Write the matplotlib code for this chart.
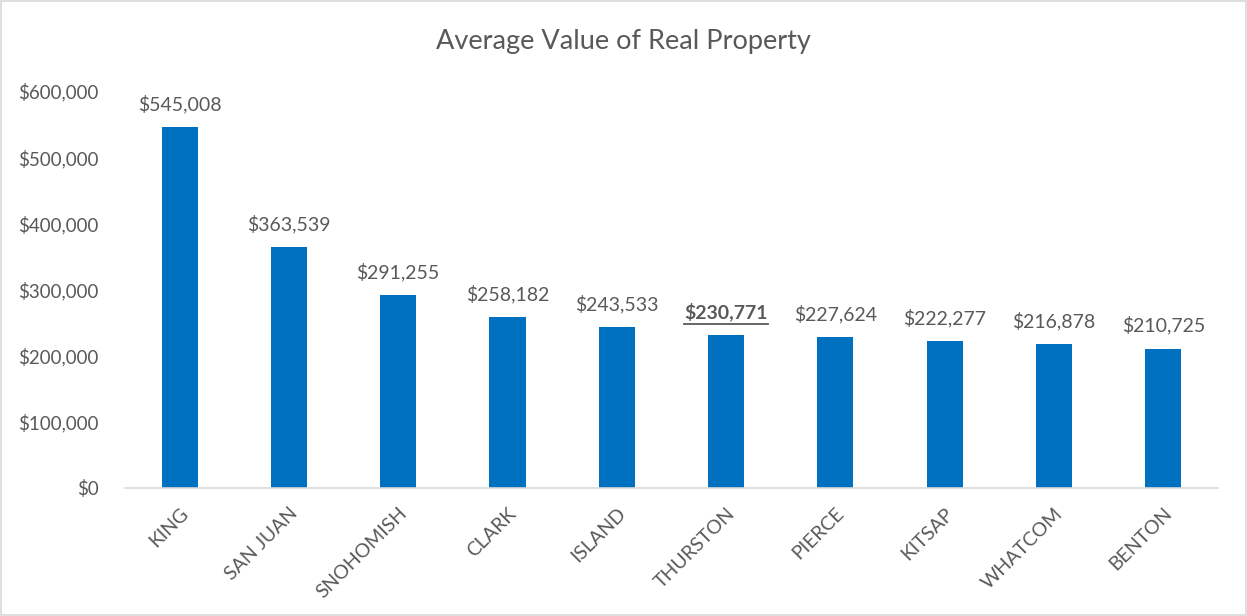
import matplotlib
matplotlib.use("Agg")
import matplotlib.pyplot as plt
from matplotlib.patches import Rectangle

counties = ["KING", "SAN JUAN", "SNOHOMISH", "CLARK", "ISLAND", "THURSTON",
            "PIERCE", "KITSAP", "WHATCOM", "BENTON"]
values = [545008, 363539, 291255, 258182, 243533, 230771, 227624, 222277, 216878, 210725]
highlight = "THURSTON"
yticks = [0, 100000, 200000, 300000, 400000, 500000, 600000]

plt.rcParams['font.family'] = ['Lato', 'DejaVu Sans']
txt = "#595959"

fig = plt.figure(figsize=(12.47, 6.16), dpi=100)
fig.patches.append(Rectangle((0.0008, 0.0016), 0.9984, 0.9968, transform=fig.transFigure,
                             fill=False, edgecolor="#D9D9D9", linewidth=1.2))
ax = fig.add_axes([0.1002, 0.2078, 0.8765, 0.6445])

x = list(range(len(counties)))
ax.bar(x, values, width=0.33, color="#0070C0")
ax.set_xlim(-0.5, len(counties) - 0.5)
ax.set_ylim(0, 600000)
ax.set_yticks(yticks)
ax.set_yticklabels([f"${v:,.0f}" for v in yticks], fontsize=13.5, color=txt)
ax.set_xticks(x)
ax.set_xticklabels(counties, rotation=45, ha="right", rotation_mode="anchor",
                   fontsize=14, color=txt)
ax.tick_params(axis="both", length=0)
ax.tick_params(axis="y", pad=19)
ax.tick_params(axis="x", pad=12)
for s in ["top", "right", "left"]:
    ax.spines[s].set_visible(False)
ax.spines["bottom"].set_color("#D9D9D9")
ax.spines["bottom"].set_linewidth(1.2)

hl_texts = []
for xi, (c, v) in enumerate(zip(counties, values)):
    bold = (c == highlight)
    t = ax.annotate(f"${v:,.0f}", (xi, v), xytext=(0, 10), textcoords="offset points",
                    ha="center", va="bottom", fontsize=14, color=txt,
                    fontweight="bold" if bold else "normal")
    if bold:
        hl_texts.append(t)

fig.text(0.5, 0.932, "Average Value of Real Property", ha="center", va="center",
         fontsize=19.5, color=txt)

fig.canvas.draw()
r = fig.canvas.get_renderer()
inv = fig.transFigure.inverted()
for t in hl_texts:
    bb = t.get_window_extent(renderer=r)
    (x0, y0), (x1, _) = inv.transform([(bb.x0, bb.y0 - 2.5), (bb.x1, bb.y0 - 2.5)])
    fig.add_artist(plt.Line2D([x0, x1], [y0, y0], transform=fig.transFigure,
                              color=txt, linewidth=1.3))

fig.savefig("out.png", dpi=100)
